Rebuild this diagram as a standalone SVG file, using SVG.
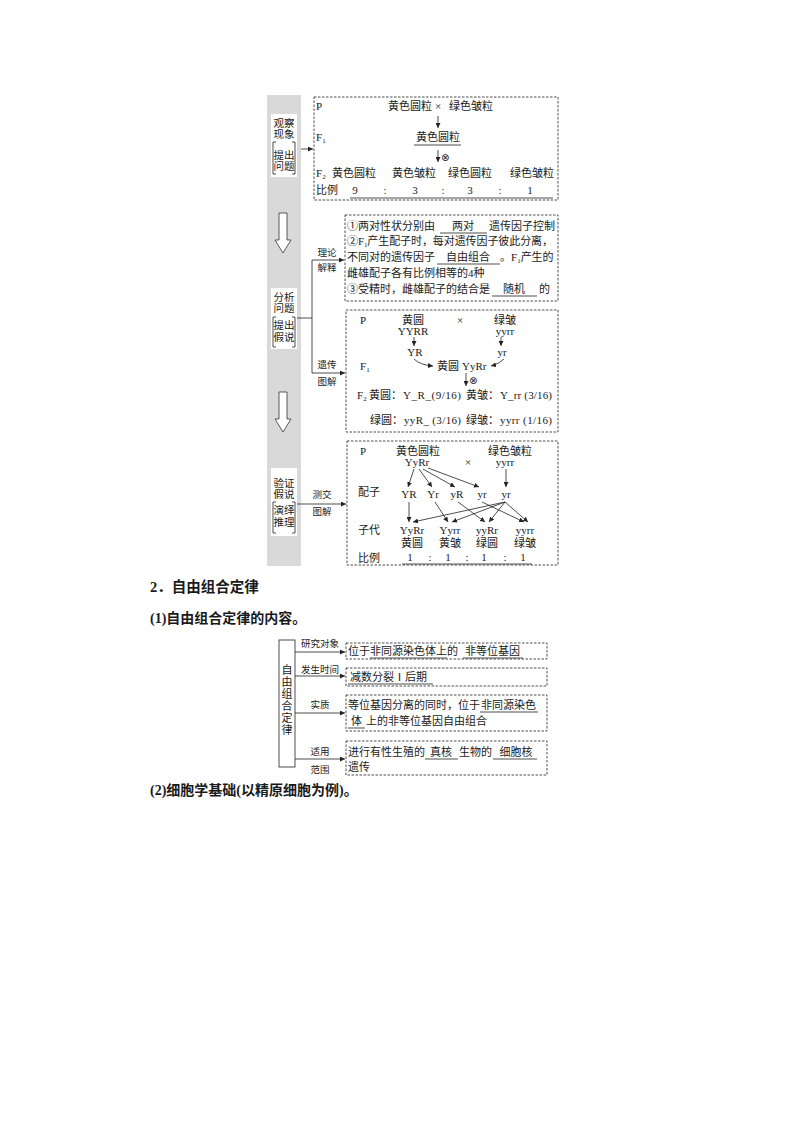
<svg xmlns="http://www.w3.org/2000/svg" width="794" height="1123" viewBox="0 0 794 1123">
<style>
.t{font-family:"Liberation Serif","Noto Sans CJK SC",serif;font-size:11px;fill:#1a1a1a}
.s{font-size:9.5px}
.sb{font-size:10.5px}
.m{text-anchor:middle}
.h{font-size:14.5px;font-weight:bold}
.h2{font-size:14px;font-weight:bold}
.sym{font-family:"DejaVu Sans",sans-serif;font-size:10px;fill:#1a1a1a}
.d{fill:none;stroke:#222;stroke-width:0.8;stroke-dasharray:2.5 1.5}
.l{fill:none;stroke:#222;stroke-width:0.8}
.a{fill:none;stroke:#222;stroke-width:0.8;marker-end:url(#ah)}
.u{stroke:#222;stroke-width:0.8}
.wb{fill:#fff}
.ha{fill:#fff;stroke:#333;stroke-width:0.8}
</style>
<defs>
<marker id="ah" viewBox="0 0 6 6" refX="6" refY="3" markerWidth="5" markerHeight="5" markerUnits="userSpaceOnUse" orient="auto"><path d="M0,0 L6,3 L0,6 z" fill="#222"/></marker>
</defs>
<rect width="794" height="1123" fill="#fff"/>

<g id="sidebar">
<rect x="267" y="95" width="34" height="471" fill="#d9d9d9"/>
<path class="ha" d="M279,213 H287 V240 H291 L283,253 L275,240 H279 Z"/>
<path class="ha" d="M279,392 H287 V419 H291 L283,432 L275,419 H279 Z"/>
</g>

<g id="stage1">
<rect class="wb" x="271" y="114" width="26" height="63"/>
<text class="t sb m" x="284" y="127">观察</text>
<text class="t sb m" x="284" y="138">现象</text>
<path class="l" d="M276,142 H273 V174 H276 M292,142 H295 V174 H292"/>
<text class="t sb m" x="284" y="159">提出</text>
<text class="t sb m" x="284" y="170">问题</text>
</g>

<g id="stage2">
<rect class="wb" x="271" y="288" width="26" height="61"/>
<text class="t sb m" x="284" y="301">分析</text>
<text class="t sb m" x="284" y="312">问题</text>
<path class="l" d="M276,317 H273 V347 H276 M292,317 H295 V347 H292"/>
<text class="t sb m" x="284" y="329">提出</text>
<text class="t sb m" x="284" y="341">假说</text>
</g>

<g id="stage3">
<rect class="wb" x="271" y="468" width="26" height="68"/>
<text class="t sb m" x="284" y="487">验证</text>
<text class="t sb m" x="284" y="498">假说</text>
<path class="l" d="M276,502 H273 V533 H276 M292,502 H295 V533 H292"/>
<text class="t sb m" x="284" y="514">演绎</text>
<text class="t sb m" x="284" y="526">推理</text>
</g>

<g id="box1">
<rect class="d" x="314" y="97" width="244" height="103"/>
<text class="t" x="316" y="110">P</text>
<text class="t" x="388" y="110">黄色圆粒</text>
<text class="t m" x="438" y="110">×</text>
<text class="t" x="449" y="110">绿色皱粒</text>
<text class="t" x="316" y="141">F<tspan font-size="7" dy="2">1</tspan></text>
<text class="t" x="416" y="141">黄色圆粒</text>
<line class="u" x1="414" y1="145" x2="461" y2="145"/>
<text class="sym" x="441" y="161">⊗</text>
<text class="t" x="316" y="177">F<tspan font-size="7" dy="2">2</tspan></text>
<text class="t" x="332" y="177">黄色圆粒</text>
<text class="t" x="392" y="177">黄色皱粒</text>
<text class="t" x="448" y="177">绿色圆粒</text>
<text class="t" x="510" y="177">绿色皱粒</text>
<text class="t" x="316" y="194">比例</text>
<text class="t m" x="355" y="194">9</text>
<text class="t m" x="385" y="194">:</text>
<text class="t m" x="415" y="194">3</text>
<text class="t m" x="443" y="194">:</text>
<text class="t m" x="470" y="194">3</text>
<text class="t m" x="500" y="194">:</text>
<text class="t m" x="530" y="194">1</text>
<line class="u" x1="350" y1="198" x2="553" y2="198"/>
</g>

<g id="box2a">
<rect class="d" x="345" y="215" width="213" height="86"/>
<text class="t" x="347" y="230">①两对性状分别由</text>
<text class="t m" x="463" y="230">两对</text>
<line class="u" x1="440" y1="233" x2="487" y2="233"/>
<text class="t" x="489" y="230">遗传因子控制</text>
<text class="t" x="347" y="245" textLength="206" lengthAdjust="spacing">②F<tspan font-size="7" dy="2">1</tspan><tspan dy="-2">产生配子时，每对遗传因子彼此分离，</tspan></text>
<text class="t" x="347" y="261">不同对的遗传因子</text>
<text class="t m" x="468" y="261">自由组合</text>
<line class="u" x1="437" y1="264" x2="500" y2="264"/>
<text class="t" x="500" y="261">。F<tspan font-size="7" dy="2">1</tspan><tspan dy="-2">产生的</tspan></text>
<text class="t" x="347" y="277">雌雄配子各有比例相等的4种</text>
<text class="t" x="347" y="293">③受精时，雌雄配子的结合是</text>
<text class="t m" x="514" y="293">随机</text>
<line class="u" x1="492" y1="296" x2="537" y2="296"/>
<text class="t" x="539" y="293">的</text>
</g>

<g id="box2b">
<rect class="d" x="346" y="310" width="212" height="122"/>
<text class="t" x="360" y="324">P</text>
<text class="t m" x="413" y="324">黄圆</text>
<text class="t m" x="460" y="324">×</text>
<text class="t m" x="505" y="324">绿皱</text>
<text class="t m" x="413" y="335">YYRR</text>
<text class="t m" x="505" y="335">yyrr</text>
<text class="t m" x="415" y="356">YR</text>
<text class="t m" x="502" y="356">yr</text>
<text class="t" x="360" y="370">F<tspan font-size="7" dy="2">1</tspan></text>
<text class="t" x="437" y="370">黄圆</text>
<text class="t" x="462" y="370">YyRr</text>
<text class="sym" x="469" y="384">⊗</text>
<text class="t" x="357" y="399">F<tspan font-size="7" dy="2">2</tspan></text>
<text class="t" x="369" y="399">黄圆：</text>
<text class="t" x="403" y="399" textLength="58" lengthAdjust="spacing">Y_R_(9/16)</text>
<text class="t" x="466" y="399">黄皱：</text>
<text class="t" x="500" y="399" textLength="52" lengthAdjust="spacing">Y_rr (3/16)</text>
<text class="t" x="370" y="424">绿圆：</text>
<text class="t" x="404" y="424" textLength="57" lengthAdjust="spacing">yyR_ (3/16)</text>
<text class="t" x="466" y="424">绿皱：</text>
<text class="t" x="500" y="424" textLength="52" lengthAdjust="spacing">yyrr (1/16)</text>
</g>

<g id="box3">
<rect class="d" x="347" y="441" width="211" height="124"/>
<text class="t" x="360" y="455">P</text>
<text class="t m" x="418" y="455">黄色圆粒</text>
<text class="t m" x="510" y="455">绿色皱粒</text>
<text class="t m" x="417" y="466">YyRr</text>
<text class="t m" x="468" y="466">×</text>
<text class="t m" x="505" y="466">yyrr</text>
<text class="t" x="358" y="496">配子</text>
<text class="t m" x="409" y="498">YR</text>
<text class="t m" x="433" y="498">Yr</text>
<text class="t m" x="457" y="498">yR</text>
<text class="t m" x="482" y="498">yr</text>
<text class="t m" x="506" y="498">yr</text>
<text class="t" x="358" y="534">子代</text>
<text class="t m" x="412" y="534">YyRr</text>
<text class="t m" x="450" y="534">Yyrr</text>
<text class="t m" x="487" y="534">yyRr</text>
<text class="t m" x="525" y="534">yyrr</text>
<text class="t m" x="412" y="547">黄圆</text>
<text class="t m" x="450" y="547">黄皱</text>
<text class="t m" x="487" y="547">绿圆</text>
<text class="t m" x="525" y="547">绿皱</text>
<text class="t" x="358" y="562">比例</text>
<text class="t m" x="410" y="561">1</text>
<text class="t m" x="430" y="561">:</text>
<text class="t m" x="448" y="561">1</text>
<text class="t m" x="467" y="561">:</text>
<text class="t m" x="484" y="561">1</text>
<text class="t m" x="505" y="561">:</text>
<text class="t m" x="523" y="561">1</text>
<line class="u" x1="402" y1="564" x2="532" y2="564"/>
</g>

<g id="law-title">
<text class="t h" x="150" y="592">2．自由组合定律</text>
<text class="t h2" x="150" y="623">(1)自由组合定律的内容。</text>
<text class="t h2" x="150" y="795">(2)细胞学基础(以精原细胞为例)。</text>
</g>

<g id="law-root">
<rect class="l" x="279" y="640" width="16" height="127"/>
<text class="t m" x="287" y="674">自</text>
<text class="t m" x="287" y="686">由</text>
<text class="t m" x="287" y="698">组</text>
<text class="t m" x="287" y="710">合</text>
<text class="t m" x="287" y="722">定</text>
<text class="t m" x="287" y="734">律</text>
</g>

<g id="law1">
<rect class="d" x="346" y="643" width="201" height="16"/>
<text class="t" x="348" y="655">位于非同源染色体上的</text>
<line class="u" x1="370" y1="658" x2="447" y2="658"/>
<text class="t" x="465" y="655">非等位基因</text>
<line class="u" x1="463" y1="658" x2="523" y2="658"/>
</g>
<g id="law2">
<rect class="d" x="346" y="668" width="201" height="18"/>
<text class="t" x="350" y="681">减数分裂Ⅰ后期</text>
<line class="u" x1="348" y1="684" x2="433" y2="684"/>
</g>
<g id="law3">
<rect class="d" x="346" y="695" width="201" height="36"/>
<text class="t" x="348" y="709">等位基因分离的同时，位于</text>
<text class="t" x="481" y="709">非同源染色</text>
<line class="u" x1="480" y1="712" x2="538" y2="712"/>
<text class="t" x="351" y="725">体</text>
<line class="u" x1="348" y1="728" x2="365" y2="728"/>
<text class="t" x="366" y="725">上的非等位基因自由组合</text>
</g>
<g id="law4">
<rect class="d" x="346" y="741" width="201" height="34"/>
<text class="t" x="348" y="756">进行有性生殖的</text>
<text class="t m" x="441" y="756">真核</text>
<line class="u" x1="425" y1="759" x2="458" y2="759"/>
<text class="t" x="459" y="756">生物的</text>
<text class="t m" x="516" y="756">细胞核</text>
<line class="u" x1="493" y1="759" x2="537" y2="759"/>
<text class="t" x="348" y="771">遗传</text>
</g>

<g id="connectors">
<line class="a" x1="301" y1="149" x2="313" y2="149"/>
<line class="a" x1="438" y1="116" x2="438" y2="128"/>
<line class="a" x1="438" y1="150" x2="438" y2="162"/>
<path class="l" d="M297,318 H312 M312,260 V373"/>
<line class="a" x1="312" y1="260" x2="344" y2="260"/>
<line class="a" x1="312" y1="373" x2="345" y2="373"/>
<line class="a" x1="414" y1="337" x2="414" y2="346"/>
<line class="a" x1="501" y1="337" x2="501" y2="346"/>
<path class="a" d="M414,359 Q420,365 433,366"/>
<path class="a" d="M504,359 Q499,364 491,366"/>
<line class="a" x1="466" y1="373" x2="466" y2="386"/>
<line class="a" x1="297" y1="504" x2="346" y2="504"/>
<line class="a" x1="414" y1="469" x2="408" y2="487"/>
<line class="a" x1="419" y1="469" x2="432" y2="487"/>
<line class="a" x1="423" y1="469" x2="455" y2="487"/>
<line class="a" x1="428" y1="468" x2="479" y2="487"/>
<line class="a" x1="506" y1="469" x2="506" y2="487"/>
<line class="a" x1="409" y1="502" x2="409" y2="522"/>
<line class="a" x1="435" y1="502" x2="448" y2="522"/>
<line class="a" x1="458" y1="502" x2="485" y2="522"/>
<line class="a" x1="482" y1="502" x2="524" y2="522"/>
<line class="a" x1="505" y1="502" x2="413" y2="522"/>
<line class="a" x1="505" y1="502" x2="452" y2="522"/>
<line class="a" x1="505" y1="502" x2="489" y2="522"/>
<line class="a" x1="505" y1="502" x2="528" y2="522"/>
<line class="a" x1="295" y1="652" x2="345" y2="652"/>
<line class="a" x1="295" y1="676" x2="345" y2="676"/>
<line class="a" x1="295" y1="713" x2="345" y2="713"/>
<line class="a" x1="295" y1="759" x2="345" y2="759"/>
<g class="t s">
<text class="m" x="327" y="256">理论</text>
<text class="m" x="327" y="271">解释</text>
<text class="m" x="327" y="368">遗传</text>
<text class="m" x="327" y="385">图解</text>
<text class="m" x="322" y="498">测交</text>
<text class="m" x="322" y="515">图解</text>
<text class="m" x="320" y="647">研究对象</text>
<text class="m" x="320" y="673">发生时间</text>
<text class="m" x="320" y="708">实质</text>
<text class="m" x="320" y="755">适用</text>
<text class="m" x="320" y="773">范围</text>
</g>
</g>
</svg>
